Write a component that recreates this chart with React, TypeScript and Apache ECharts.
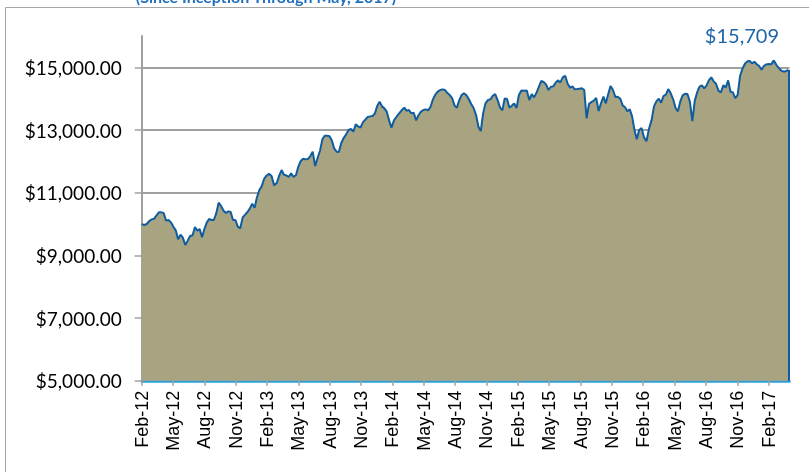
import React, { useEffect, useRef } from "react";
import * as echarts from "echarts";

// Weekly portfolio values, starting 1 Feb 2012 (one value per week)
const START_DATE = Date.UTC(2012, 1, 1);
const WEEK_VALUES: number[] = [
  10000, 9970, 10002, 10098, 10151, 10172, 10279, 10374, 10374, 10353,
  10109, 10130, 10055, 9917, 9800, 9513, 9662, 9566, 9333, 9471,
  9620, 9641, 9907, 9790, 9843, 9577, 9843, 10045, 10162, 10130,
  10130, 10342, 10683, 10576, 10427, 10353, 10406, 10385, 10130, 10130,
  9917, 9864, 10215, 10300, 10385, 10502, 10651, 10523, 10853, 11087,
  11203, 11437, 11544, 11607, 11533, 11235, 11310, 11544, 11724, 11575,
  11554, 11501, 11618, 11501, 11565, 11841, 12012, 12086, 12065, 12076,
  12161, 12310, 11853, 12108, 12341, 12703, 12820, 12820, 12799, 12671,
  12416, 12310, 12299, 12586, 12745, 12862, 13000, 13032, 12947, 13181,
  13117, 13075, 13245, 13330, 13415, 13436, 13447, 13532, 13776, 13904,
  13755, 13691, 13585, 13308, 13075, 13308, 13425, 13532, 13638, 13712,
  13617, 13638, 13532, 13553, 13308, 13479, 13585, 13638, 13659, 13627,
  13744, 13978, 14127, 14223, 14276, 14297, 14276, 14180, 14116, 14021,
  13787, 13712, 13946, 14116, 14170, 14116, 13989, 13829, 13702, 13478,
  13106, 12968, 13532, 13851, 13957, 13978, 14095, 14148, 13957, 13723,
  13627, 14010, 13989, 13712, 13776, 13851, 13702, 14127, 14265, 14254,
  14265, 13957, 14148, 14042, 14180, 14371, 14563, 14531, 14456, 14276,
  14382, 14393, 14510, 14584, 14520, 14680, 14733, 14478, 14351, 14393,
  14298, 14308, 14319, 14330, 14276, 13373, 13830, 13894, 13936, 14021,
  13607, 13862, 14064, 13851, 14138, 14404, 14287, 14053, 14064, 14000,
  13787, 13724, 13596, 13660, 13437, 13001, 12703, 13001, 13065, 12767,
  12640, 13043, 13309, 13756, 13915, 14000, 13872, 14085, 14128, 14308,
  14170, 13979, 13702, 13596, 13915, 14106, 14159, 14149, 13904, 13288,
  13936, 14202, 14383, 14425, 14330, 14425, 14595, 14680, 14553, 14478,
  14255, 14202, 14425, 14361, 14585, 14223, 14202, 14021, 14117, 14723,
  14957, 15116, 15191, 15201, 15127, 15180, 15095, 15042, 14925, 15042,
  15095, 15106, 15095, 15222, 15074, 14967, 14893, 14861, 14882, 14914,
];

const TICK_LABELS: string[] = [
  "Feb-12", "May-12", "Aug-12", "Nov-12",
  "Feb-13", "May-13", "Aug-13", "Nov-13",
  "Feb-14", "May-14", "Aug-14", "Nov-14",
  "Feb-15", "May-15", "Aug-15", "Nov-15",
  "Feb-16", "May-16", "Aug-16", "Nov-16",
  "Feb-17",
];

const Y_TICKS: number[] = [5000, 7000, 9000, 11000, 13000, 15000];
const TITLE_TEXT = "(Since Inception Through May, 2017)";
const END_LABEL = "$15,709";

// months elapsed since 1 Feb 2012 (fractional)
function monthIndex(t: number): number {
  const d = new Date(t);
  const y = d.getUTCFullYear();
  const m = d.getUTCMonth();
  const dim = new Date(Date.UTC(y, m + 1, 0)).getUTCDate();
  return (y - 2012) * 12 + m - 1 + (d.getUTCDate() - 1) / dim;
}

export default function App() {
  const ref = useRef<HTMLDivElement>(null);

  useEffect(() => {
    if (!ref.current) return;
    const chart = echarts.init(ref.current, null, { renderer: "svg" });

    const data = WEEK_VALUES.map((v, i) => [
      monthIndex(START_DATE + i * 7 * 86400000),
      v,
    ]);
    const last = data[data.length - 1];
    const xTicks = TICK_LABELS.map((_, i) => i * 3);

    const lineColor = "#0F5D9E";
    const gray = "#A0A0A0";

    chart.setOption({
      animation: false,
      grid: { left: 141.7, right: 19.5, top: 36, bottom: 91.2 },
      graphic: [
        {
          type: "rect",
          shape: { x: 5.5, y: 7.5, width: 1200, height: 1200 },
          style: { fill: "none", stroke: "#A6A6A6", lineWidth: 1 },
          silent: true,
          z: -10,
        },
        {
          type: "text",
          x: 266,
          y: -4,
          style: {
            text: TITLE_TEXT,
            font: "bold 16px Lato",
            fill: "#1F6FBF",
            textAlign: "center",
            textVerticalAlign: "middle",
          },
        },
        {
          type: "text",
          x: 779,
          y: 35,
          style: {
            text: END_LABEL,
            font: "20px Lato",
            fill: "#1F66A8",
            textAlign: "right",
            textVerticalAlign: "middle",
          },
        },
      ],
      xAxis: {
        type: "value",
        min: 0,
        max: 62,
        interval: 3,
        splitLine: { show: false },
        axisLine: { show: true, lineStyle: { color: "#2BA0DA", width: 2.5 } },
        axisTick: {
          show: true,
          length: 5,
          lineStyle: { color: gray, width: 1.5 },
          customValues: xTicks,
        },
        axisLabel: {
          rotate: 90,
          margin: 10,
          fontFamily: "Liberation Sans",
          fontSize: 18,
          color: "#000",
          customValues: xTicks,
          formatter: (v: number) => {
            const k = Math.round(v / 3);
            return Math.abs(v - k * 3) < 1e-6 && TICK_LABELS[k] ? TICK_LABELS[k] : "";
          },
        },
      },
      yAxis: {
        type: "value",
        min: 5000,
        max: 16000,
        interval: 2000,
        axisLine: { show: true, lineStyle: { color: gray, width: 2 } },
        axisTick: {
          show: true,
          length: 7,
          lineStyle: { color: gray, width: 1.5 },
          customValues: Y_TICKS,
        },
        splitLine: {
          show: true,
          lineStyle: { color: gray, width: 2 },
        },
        axisLabel: {
          margin: 20,
          fontFamily: "Lato",
          fontSize: 19,
          color: "#000",
          customValues: Y_TICKS,
          formatter: (v: number) =>
            "$" + v.toLocaleString("en-US", { minimumFractionDigits: 2, maximumFractionDigits: 2 }),
        },
      },
      series: [
        {
          type: "line",
          data,
          showSymbol: false,
          symbol: "none",
          smooth: false,
          lineStyle: { color: lineColor, width: 2 },
          areaStyle: { color: "#A8A482", opacity: 1 },
          z: 3,
          markLine: {
            silent: true,
            symbol: ["none", "none"],
            label: { show: false },
            lineStyle: { color: lineColor, width: 2, type: "solid" },
            data: [[{ coord: [last[0], 5000] }, { coord: [last[0], last[1]] }]],
          },
        },
      ],
    });

    return () => chart.dispose();
  }, []);

  return (
    <div
      ref={ref}
      style={{ position: "fixed", left: 0, top: 0, width: 809, height: 472 }}
    />
  );
}
